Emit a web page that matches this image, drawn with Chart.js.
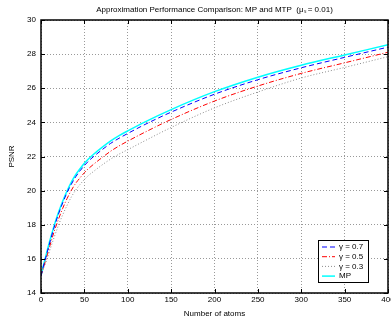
<!DOCTYPE html>
<html lang="en">

<head>
    <meta charset="UTF-8">
    <script src="https://cdn.jsdelivr.net/npm/chart.js"></script>
    <title>MP vs MTP</title>
    <style>
        body { margin: 0; background: #fff; }
    </style>
</head>

<body>
    <canvas id="myChart" width="391" height="322"></canvas>
</body>

<script>
    // number of atoms (x) and PSNR per method
    const atoms = [0, 2, 5, 10, 15, 20, 25, 30, 35, 40, 45, 50, 55, 60, 70, 80, 90, 100, 120, 150, 200, 250, 300, 350, 400];
    const gamma07 = [15.0, 15.42, 15.98, 16.93, 17.82, 18.6, 19.28, 19.88, 20.38, 20.81, 21.16, 21.47, 21.74, 21.97, 22.38, 22.76, 23.07, 23.35, 23.88, 24.6, 25.65, 26.5, 27.2, 27.81, 28.41];
    const gamma05 = [15.0, 15.37, 15.85, 16.73, 17.57, 18.3, 18.96, 19.53, 20.02, 20.43, 20.75, 21.05, 21.3, 21.52, 21.92, 22.3, 22.62, 22.9, 23.43, 24.17, 25.25, 26.13, 26.87, 27.49, 28.11];
    const gamma03 = [15.0, 15.3, 15.7, 16.48, 17.24, 17.95, 18.58, 19.13, 19.63, 20.03, 20.36, 20.65, 20.9, 21.1, 21.49, 21.84, 22.14, 22.4, 22.93, 23.7, 24.85, 25.78, 26.6, 27.22, 27.85];
    const mp = [15.0, 15.45, 16.05, 17.03, 17.92, 18.7, 19.38, 19.98, 20.5, 20.93, 21.28, 21.6, 21.87, 22.1, 22.52, 22.9, 23.22, 23.5, 24.03, 24.75, 25.8, 26.65, 27.35, 27.95, 28.55];
    const seriesNames = ['\u03b3 = 0.7', '\u03b3 = 0.5', '\u03b3 = 0.3', 'MP'];
    const xTicks = [0, 50, 100, 150, 200, 250, 300, 350, 400];
    const yTicks = [14, 16, 18, 20, 22, 24, 26, 28, 30];

    const FONT = 'Liberation Sans, Arial, sans-serif';

    function pts(ys) {
        return atoms.map((a, i) => ({ x: a, y: ys[i] }));
    }

    function line(label, ys, color, dash, width) {
        return {
            label: label,
            data: pts(ys),
            borderColor: color,
            backgroundColor: color,
            borderWidth: width,
            borderDash: dash,
            pointRadius: 0,
            fill: false,
            cubicInterpolationMode: 'monotone'
        };
    }

    // MATLAB style box, inward ticks, in-plot legend and title
    const matlabBox = {
        id: 'matlabBox',
        afterDraw(chart) {
            const ctx = chart.ctx;
            const a = chart.chartArea;
            const xs = chart.scales.x, ys = chart.scales.y;
            ctx.save();
            ctx.strokeStyle = '#000';
            ctx.lineWidth = 1;
            ctx.setLineDash([]);
            ctx.beginPath();
            xTicks.forEach(v => {
                const px = Math.round(xs.getPixelForValue(v)) + 0.5;
                ctx.moveTo(px, a.bottom); ctx.lineTo(px, a.bottom - 4);
                ctx.moveTo(px, a.top); ctx.lineTo(px, a.top + 4);
            });
            yTicks.forEach(v => {
                const py = Math.round(ys.getPixelForValue(v)) + 0.5;
                ctx.moveTo(a.left, py); ctx.lineTo(a.left + 4, py);
                ctx.moveTo(a.right, py); ctx.lineTo(a.right - 4, py);
            });
            ctx.stroke();
            ctx.lineWidth = 1.5;
            ctx.strokeRect(a.left, a.top, a.right - a.left, a.bottom - a.top);

            // title
            ctx.fillStyle = '#000';
            ctx.font = '8px ' + FONT;
            ctx.textAlign = 'center';
            ctx.textBaseline = 'middle';
            ctx.fillText('Approximation Performance Comparison: MP and MTP  (\u03bc\u209b = 0.01)', (a.left + a.right) / 2, 10);

            // legend
            const bx = 318, by = 240, bw = 50, bh = 42;
            ctx.fillStyle = '#fff';
            ctx.fillRect(bx, by, bw, bh);
            ctx.lineWidth = 1;
            ctx.strokeStyle = '#000';
            ctx.strokeRect(bx + 0.5, by + 0.5, bw, bh);
            chart.data.datasets.forEach((ds, i) => {
                const y = by + 7 + i * 9.7;
                ctx.strokeStyle = ds.borderColor;
                ctx.lineWidth = ds.borderWidth;
                ctx.setLineDash(ds.borderDash);
                ctx.beginPath();
                ctx.moveTo(bx + 4, y); ctx.lineTo(bx + 17, y);
                ctx.stroke();
                ctx.setLineDash([]);
                ctx.fillStyle = '#000';
                ctx.textAlign = 'left';
                ctx.fillText(ds.label, bx + 21, y);
            });
            ctx.restore();
        }
    };

    const ctx = document.getElementById('myChart').getContext('2d');
    const myChart = new Chart(ctx, {
        type: 'line',
        data: {
            datasets: [
                line(seriesNames[0], gamma07, '#0000ff', [5, 3], 1),
                line(seriesNames[1], gamma05, '#ff0000', [5, 2, 1, 2], 1),
                line(seriesNames[2], gamma03, '#8c8c8c', [1, 2], 1),
                line(seriesNames[3], mp, '#00ffff', [], 1.5)
            ]
        },
        options: {
            responsive: false,
            animation: false,
            devicePixelRatio: 1,
            layout: { padding: { top: 20, left: 0, right: 3, bottom: 0 } },
            plugins: {
                legend: { display: false },
                title: { display: false },
                tooltip: { enabled: false }
            },
            scales: {
                x: {
                    type: 'linear',
                    min: 0,
                    max: 400,
                    afterBuildTicks: s => { s.ticks = xTicks.map(v => ({ value: v })); },
                    ticks: { color: '#000', font: { family: FONT, size: 8 }, padding: 2, maxRotation: 0 },
                    grid: { color: '#999', drawTicks: false },
                    border: { display: false, dash: [1, 2] },
                    title: { display: true, text: 'Number of atoms', color: '#000', font: { family: FONT, size: 8 }, padding: { top: 4, bottom: 3 } },
                    afterFit: s => { s.height = 29; s.paddingLeft = 0; s.paddingRight = 0; }
                },
                y: {
                    min: 14,
                    max: 30,
                    afterBuildTicks: s => { s.ticks = yTicks.map(v => ({ value: v })); },
                    ticks: { color: '#000', font: { family: FONT, size: 8 }, padding: 5 },
                    grid: { color: '#999', drawTicks: false },
                    border: { display: false, dash: [1, 2] },
                    title: { display: true, text: 'PSNR', color: '#000', font: { family: FONT, size: 8 }, padding: { top: 7, bottom: 0 } },
                    afterFit: s => { s.width = 41; s.paddingTop = 0; s.paddingBottom = 0; }
                }
            }
        },
        plugins: [matlabBox]
    });
</script>

</html>
